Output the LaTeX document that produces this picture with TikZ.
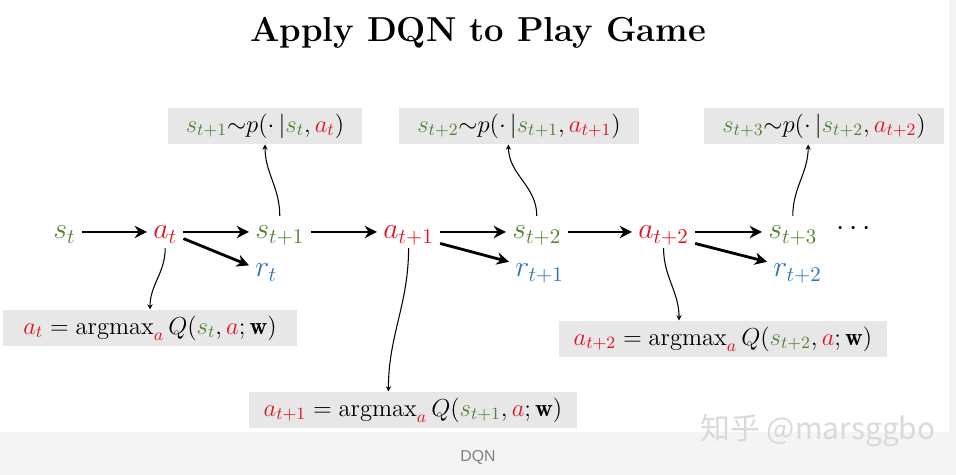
\RequirePackage{fix-cm}
\documentclass[tikz,border=0pt]{standalone}
\usepackage{amsmath}
\usepackage{fontspec}
\newfontfamily\capfont{Liberation Sans}
\newfontfamily\cjkfont{Noto Sans CJK SC}
\usetikzlibrary{arrows.meta}

\definecolor{sgreen}{RGB}{84,130,53}
\definecolor{ared}{RGB}{228,18,30}
\definecolor{rblue}{RGB}{46,117,182}
\definecolor{boxgray}{RGB}{231,231,231}
\definecolor{pagegray}{RGB}{244,244,244}

\newcommand{\state}[1]{\textcolor{sgreen}{s_{#1}}}
\newcommand{\act}[1]{\textcolor{ared}{a_{#1}}}
\newcommand{\rew}[1]{\textcolor{rblue}{r_{#1}}}

\begin{document}
\begin{tikzpicture}[
  x=0.02cm, y=-0.02cm,
  var/.style={
    anchor=base west, inner xsep=3.4pt, inner ysep=1pt,
    text height=12pt, text depth=4pt,
    font=\fontsize{17}{20}\selectfont
  },
  formula/.style={
    fill=boxgray, inner xsep=8pt, minimum height=20pt,
    font=\fontsize{14}{17}\selectfont
  },
  arrow/.style={-{Stealth[length=7pt,width=7pt]}, line width=1.6pt},
  link/.style={-{Stealth[length=3pt,width=3pt]}, line width=0.6pt}
]
  \useasboundingbox (0,0) rectangle (956,475);
  \fill[pagegray] (0,0) rectangle (956,475);
  \fill[white] (0,0) rectangle (949,432);

  % Title
  \node[font=\fontsize{19.7}{24}\selectfont\bfseries] (title) at (478,33) {Apply DQN to Play Game};

  % States, actions and rewards
  \node[var] (s0) at (47,239) {$\state{t}$};
  \node[var] (a0) at (147,239) {$\act{t}$};
  \node[var] (s1) at (249,239) {$\state{t+1}$};
  \node[var] (a1) at (377,239) {$\act{t+1}$};
  \node[var] (s2) at (506,239) {$\state{t+2}$};
  \node[var] (a2) at (632,239) {$\act{t+2}$};
  \node[var] (s3) at (762,239) {$\state{t+3}$};
  \node[var] (dots) at (830,236) {$\cdots$};
  \node[var] (r0) at (249,277) {$\rew{t}$};
  \node[var] (r1) at (509,277) {$\rew{t+1}$};
  \node[var] (r2) at (767,277) {$\rew{t+2}$};

  % Transition boxes
  \node[formula, minimum width=110pt] (p1) at (265,126) {$\state{t+1}{\sim}p(\cdot\,|\state{t},\act{t})$};
  \node[formula, minimum width=137pt] (p2) at (519,126) {$\state{t+2}{\sim}p(\cdot\,|\state{t+1},\act{t+1})$};
  \node[formula, minimum width=137pt] (p3) at (824,126) {$\state{t+3}{\sim}p(\cdot\,|\state{t+2},\act{t+2})$};

  % Action boxes
  \node[formula, minimum width=167pt] (q0) at (150,328) {$\act{t}=\operatorname{argmax}_{\textcolor{ared}{a}}Q(\state{t},\textcolor{ared}{a};\mathbf{w})$};
  \node[formula, minimum width=187pt] (q1) at (413,410) {$\act{t+1}=\operatorname{argmax}_{\textcolor{ared}{a}}Q(\state{t+1},\textcolor{ared}{a};\mathbf{w})$};
  \node[formula, minimum width=187pt] (q2) at (723,339) {$\act{t+2}=\operatorname{argmax}_{\textcolor{ared}{a}}Q(\state{t+2},\textcolor{ared}{a};\mathbf{w})$};

  % Main flow
  \draw[arrow] (s0) -- (a0);
  \draw[arrow] (a0) -- (s1);
  \draw[arrow] (a0.-20) -- (r0.165);
  \draw[arrow] (s1) -- (a1);
  \draw[arrow] (a1) -- (s2);
  \draw[arrow] (a1.-20) -- (r1.165);
  \draw[arrow] (s2) -- (a2);
  \draw[arrow] (a2) -- (s3);
  \draw[arrow] (a2.-20) -- (r2.165);

  % Links to the boxes
  \draw[link] (s1.north) to[out=90,in=-90] (p1.south);
  \draw[link] (s2.north) to[out=90,in=-90] ([xshift=-6pt]p2.south);
  \draw[link] (s3.north) to[out=90,in=-90] ([xshift=-9pt]p3.south);
  \draw[link] (a0.south) to[out=-90,in=90] (q0.north);
  \draw[link] (a1.south) to[out=-90,in=90] ([xshift=-14pt]q1.north);
  \draw[link] (a2.south) to[out=-90,in=90] ([xshift=-25pt]q2.north);

  % Caption and mark
  \node[font=\capfont\fontsize{9}{11}\selectfont, text=gray] (cap) at (478,457) {DQN};
  \node[font=\cjkfont\fontsize{17}{20}\selectfont, text=gray!30] (mark) at (818,431) {知乎 @marsggbo};
\end{tikzpicture}
\end{document}
